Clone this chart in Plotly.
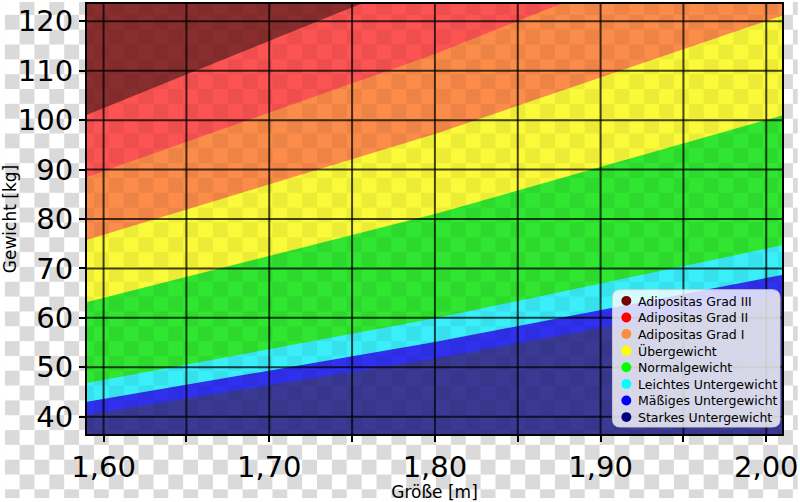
import base64
import plotly.graph_objects as go

# ---- data ----
heights = [1.59, 1.80, 2.01]  # m
# Weight boundaries (kg) at each height
bound_16 = [40.4, 51.8, 64.6]
bound_17 = [43.0, 55.1, 68.7]
bound_18_5 = [46.8, 59.9, 74.7]
bound_25 = [63.2, 81.0, 101.0]
bound_30 = [75.8, 97.2, 121.2]
bound_35 = [88.5, 113.4, 141.4]
bound_40 = [101.1, 129.6, 161.6]
floor_w = [30, 30, 30]
ceil_w = [200, 200, 200]

categories = ["Adipositas Grad III", "Adipositas Grad II", "Adipositas Grad I",
              "Übergewicht", "Normalgewicht", "Leichtes Untergewicht",
              "Mäßiges Untergewicht", "Starkes Untergewicht"]
uppers = [ceil_w, bound_40, bound_35, bound_30, bound_25, bound_18_5, bound_17, bound_16]
fill_colors = ["rgb(137,46,46)", "rgb(252,83,83)", "rgb(251,140,73)", "rgb(250,250,58)",
               "rgb(48,230,48)", "rgb(58,239,250)", "rgb(48,48,239)", "rgb(58,58,149)"]
marker_colors = ["#7a0000", "#ff0000", "#ff8c3c", "#ffff00", "#00ff00", "#00ffff",
                 "#0000ff", "#00007f"]

x_ticks = [1.60, 1.65, 1.70, 1.75, 1.80, 1.85, 1.90, 1.95, 2.00]
x_ticktext = ["1,60", "", "1,70", "", "1,80", "", "1,90", "", "2,00"]
y_ticks = [40, 50, 60, 70, 80, 90, 100, 110, 120]

W, H = 800, 502
ML, MR, MT, MB = 83, 16, 2, 65
PW, PH = W - ML - MR, H - MT - MB

fig = go.Figure()

# stacked opaque bands: each band drawn from the floor up to its upper boundary,
# later (lower) bands cover the earlier ones -> no seams
for name, up, fc in zip(categories, uppers, fill_colors):
    fig.add_trace(go.Scatter(
        x=heights + heights[::-1], y=floor_w + up[::-1],
        fill="toself", fillcolor=fc, mode="none",
        showlegend=False, hoverinfo="skip"))


def checker_svg(w, h, ox, oy, gray, white):
    wrect = f"<rect width='30' height='30' fill='{white}'/>" if white else ""
    s = (f"<svg xmlns='http://www.w3.org/2000/svg' width='{w}' height='{h}'>"
         f"<defs><pattern id='p' width='30' height='30' patternUnits='userSpaceOnUse' "
         f"patternTransform='translate({ox},{oy})'>"
         f"{wrect}"
         f"<rect x='15' y='0' width='15' height='15' fill='{gray}'/>"
         f"<rect x='0' y='15' width='15' height='15' fill='{gray}'/>"
         "</pattern></defs>"
         f"<rect width='{w}' height='{h}' fill='url(#p)'/></svg>")
    return "data:image/svg+xml;base64," + base64.b64encode(s.encode()).decode()


# page checkerboard (transparency pattern)
fig.add_layout_image(dict(source=checker_svg(W, H, 0, -2, "#dadada", "#ffffff"),
                          xref="paper", yref="paper",
                          x=-ML / PW, y=1 + MT / PH, sizex=W / PW, sizey=H / PH,
                          xanchor="left", yanchor="top", sizing="stretch",
                          layer="below"))
# faint checkerboard showing through the coloured bands
fig.add_layout_image(dict(source=checker_svg(PW, PH, -ML, -MT - 2, "#000000", None),
                          xref="paper", yref="paper", x=0, y=1, sizex=1, sizey=1,
                          xanchor="left", yanchor="top", sizing="stretch",
                          opacity=0.05, layer="above"))

shapes = []
for xv in x_ticks:
    shapes.append(dict(type="line", xref="x", yref="paper", x0=xv, x1=xv, y0=0, y1=1,
                       line=dict(color="rgba(0,0,0,0.72)", width=2), layer="above"))
for yv in y_ticks:
    shapes.append(dict(type="line", xref="paper", yref="y", x0=0, x1=1, y0=yv, y1=yv,
                       line=dict(color="rgba(0,0,0,0.72)", width=2), layer="above"))


def px_x(px):
    return (px - ML) / PW


def px_y(py):
    return (H - MB - py) / PH


# rounded legend box
lx0, lx1 = px_x(613), px_x(782)
ly0, ly1 = px_y(430), px_y(291)
r_x, r_y = 8 / PW, 8 / PH
path = (f"M {lx0 + r_x},{ly0} L {lx1 - r_x},{ly0} Q {lx1},{ly0} {lx1},{ly0 + r_y} "
        f"L {lx1},{ly1 - r_y} Q {lx1},{ly1} {lx1 - r_x},{ly1} "
        f"L {lx0 + r_x},{ly1} Q {lx0},{ly1} {lx0},{ly1 - r_y} "
        f"L {lx0},{ly0 + r_y} Q {lx0},{ly0} {lx0 + r_x},{ly0} Z")
shapes.append(dict(type="path", xref="paper", yref="paper", path=path,
                   fillcolor="rgba(255,255,255,0.8)",
                   line=dict(color="rgba(210,210,210,0.8)", width=1), layer="above"))

annotations = []
row0, row_step = 302.3, 16.8
for i, (name, mc) in enumerate(zip(categories, marker_colors)):
    cy = row0 + i * row_step
    shapes.append(dict(type="circle", xref="paper", yref="paper",
                       x0=px_x(622), x1=px_x(632), y0=px_y(cy + 5), y1=px_y(cy - 5),
                       fillcolor=mc, line=dict(width=0), layer="above"))
    annotations.append(dict(xref="paper", yref="paper", x=px_x(637), y=px_y(cy + 0.5),
                            xanchor="left", yanchor="middle", text=name, showarrow=False,
                            font=dict(family="DejaVu Sans", size=12.5, color="black")))

fig.update_layout(
    width=W, height=H,
    margin=dict(l=ML, r=MR, t=MT, b=MB, pad=0),
    paper_bgcolor="rgba(0,0,0,0)", plot_bgcolor="rgba(0,0,0,0)",
    font=dict(family="DejaVu Sans", color="black"),
    shapes=shapes, annotations=annotations,
    showlegend=False,
    xaxis=dict(range=[1.59, 2.0095], tickvals=x_ticks, ticktext=x_ticktext,
               ticklabeloverflow="allow",
               showgrid=False, zeroline=False, showline=True, mirror=True,
               linecolor="black", linewidth=2, ticks="outside", ticklen=6,
               tickwidth=1.5, tickcolor="black",
               tickfont=dict(family="DejaVu Sans", size=29, color="black"),
               title=dict(text="Größe [m]", standoff=4,
                          font=dict(family="DejaVu Sans", size=17, color="black"))),
    yaxis=dict(range=[36.5, 123.5], tickvals=y_ticks,
               ticklabeloverflow="allow",
               showgrid=False, zeroline=False, showline=True, mirror=True,
               linecolor="black", linewidth=2, ticks="outside", ticklen=6,
               tickwidth=1.5, tickcolor="black",
               tickfont=dict(family="DejaVu Sans", size=29, color="black"),
               title=dict(text="Gewicht [kg]", standoff=4,
                          font=dict(family="DejaVu Sans", size=17, color="black"))),
)

fig.write_html("out.html")
